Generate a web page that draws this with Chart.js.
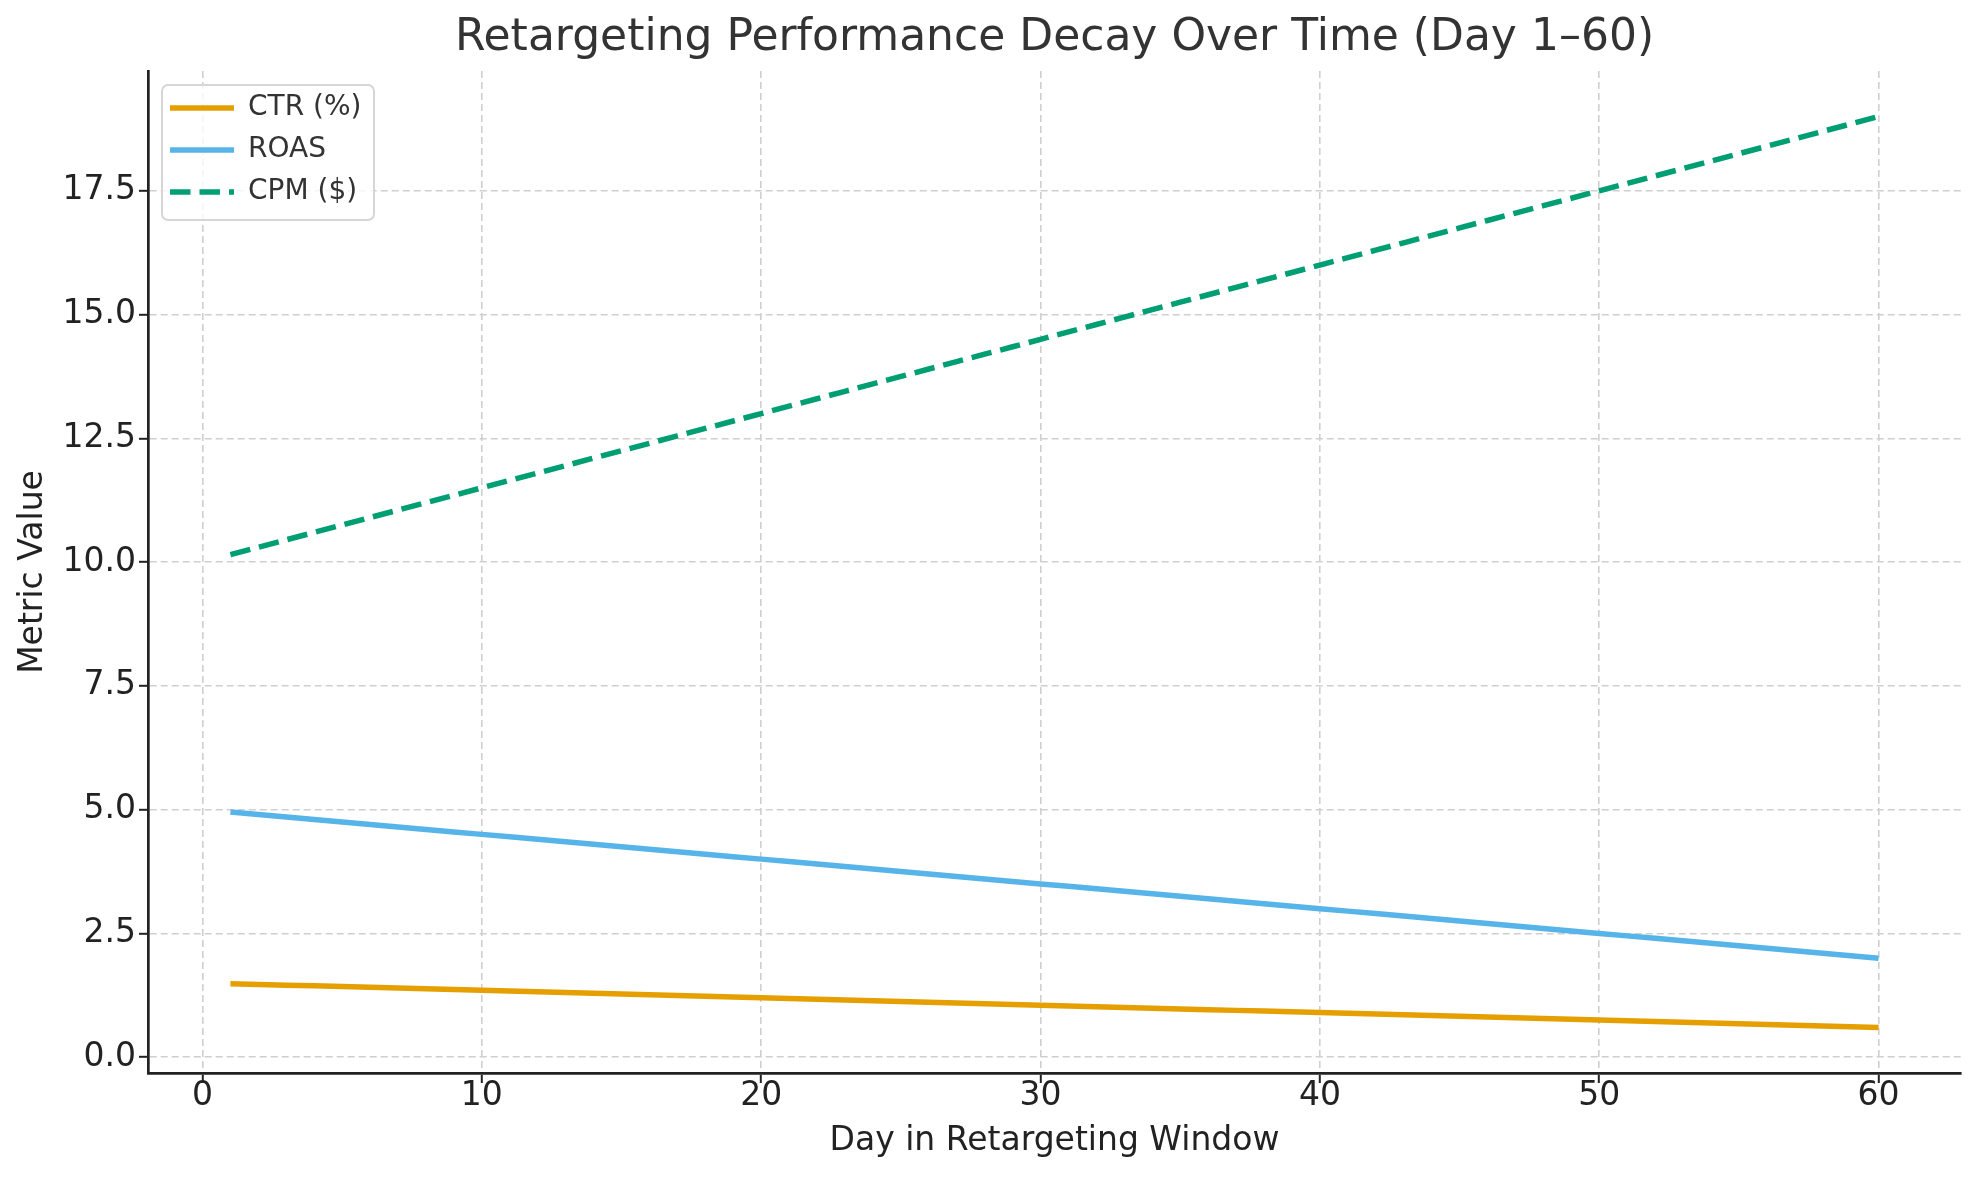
<!DOCTYPE html>
<html>
<head>
<meta charset="utf-8">
<script src="https://cdn.jsdelivr.net/npm/chart.js@4/dist/chart.umd.min.js"></script>
<style>
  html, body { margin: 0; padding: 0; background: #ffffff; }
  #chart { display: block; }
</style>
</head>
<body>
<canvas id="chart" width="1979" height="1180"></canvas>
<script>
// values
const days = [
  1, 2, 3, 4, 5, 6, 7, 8, 9, 10, 11, 12, 13, 14, 15, 16, 17, 18, 19, 20,
  21, 22, 23, 24, 25, 26, 27, 28, 29, 30, 31, 32, 33, 34, 35, 36, 37, 38, 39, 40,
  41, 42, 43, 44, 45, 46, 47, 48, 49, 50, 51, 52, 53, 54, 55, 56, 57, 58, 59, 60,
];
const ctr = [
  1.485, 1.47, 1.455, 1.44, 1.425, 1.41, 1.395, 1.38, 1.365, 1.35,
  1.335, 1.32, 1.305, 1.29, 1.275, 1.26, 1.245, 1.23, 1.215, 1.2,
  1.185, 1.17, 1.155, 1.14, 1.125, 1.11, 1.095, 1.08, 1.065, 1.05,
  1.035, 1.02, 1.005, 0.99, 0.975, 0.96, 0.945, 0.93, 0.915, 0.9,
  0.885, 0.87, 0.855, 0.84, 0.825, 0.81, 0.795, 0.78, 0.765, 0.75,
  0.735, 0.72, 0.705, 0.69, 0.675, 0.66, 0.645, 0.63, 0.615, 0.6,
];
const roas = [
  4.95, 4.9, 4.85, 4.8, 4.75, 4.7, 4.65, 4.6, 4.55, 4.5,
  4.45, 4.4, 4.35, 4.3, 4.25, 4.2, 4.15, 4.1, 4.05, 4.0,
  3.95, 3.9, 3.85, 3.8, 3.75, 3.7, 3.65, 3.6, 3.55, 3.5,
  3.45, 3.4, 3.35, 3.3, 3.25, 3.2, 3.15, 3.1, 3.05, 3.0,
  2.95, 2.9, 2.85, 2.8, 2.75, 2.7, 2.65, 2.6, 2.55, 2.5,
  2.45, 2.4, 2.35, 2.3, 2.25, 2.2, 2.15, 2.1, 2.05, 2.0,
];
const cpm = [
  10.15, 10.3, 10.45, 10.6, 10.75, 10.9, 11.05, 11.2, 11.35, 11.5,
  11.65, 11.8, 11.95, 12.1, 12.25, 12.4, 12.55, 12.7, 12.85, 13.0,
  13.15, 13.3, 13.45, 13.6, 13.75, 13.9, 14.05, 14.2, 14.35, 14.5,
  14.65, 14.8, 14.95, 15.1, 15.25, 15.4, 15.55, 15.7, 15.85, 16.0,
  16.15, 16.3, 16.45, 16.6, 16.75, 16.9, 17.05, 17.2, 17.35, 17.5,
  17.65, 17.8, 17.95, 18.1, 18.25, 18.4, 18.55, 18.7, 18.85, 19.0,
];
const seriesNames = ['CTR (%)', 'ROAS', 'CPM ($)'];

const FONT = 'DejaVu Sans';
const gridColor = '#cfcfcf';
const axisColor = '#222222';

const toPoints = (vals) => days.map((d, i) => ({x: d, y: vals[i]}));

// legend sits inside the plot with a light rounded frame, like matplotlib
const legendFrame = {
  id: 'legendFrame',
  afterLayout(chart) {
    const lg = chart.legend;
    if (!lg) return;
    lg.left = chart.chartArea.left + 8;
    lg.top = chart.chartArea.top + 9;
    if (!lg._framed) {
      const draw = lg.draw;
      lg.draw = function(...args) {
        const ctx = chart.ctx;
        const x = this.left + 6;
        const y = this.top + 5;
        ctx.save();
        ctx.beginPath();
        ctx.roundRect(x, y, 212, 135, 6);
        ctx.fillStyle = 'rgba(255,255,255,0.8)';
        ctx.fill();
        ctx.lineWidth = 2;
        ctx.strokeStyle = '#d6d6d6';
        ctx.stroke();
        ctx.restore();
        draw.apply(this, args);
      };
      lg._framed = true;
    }
  },
};

const gridOpts = (tickLength) => ({
  color: gridColor,
  lineWidth: 1.6,
  tickLength,
  tickColor: axisColor,
  tickWidth: 2,
  tickBorderDash: [],
});

new Chart(document.getElementById('chart'), {
  type: 'line',
  data: {
    datasets: [
      {
        label: seriesNames[0],
        data: toPoints(ctr),
        borderColor: '#E69F00',
        backgroundColor: '#E69F00',
        borderWidth: 5.5,
      },
      {
        label: seriesNames[1],
        data: toPoints(roas),
        borderColor: '#56B4E9',
        backgroundColor: '#56B4E9',
        borderWidth: 5.5,
      },
      {
        label: seriesNames[2],
        data: toPoints(cpm),
        borderColor: '#009E73',
        backgroundColor: '#009E73',
        borderWidth: 5.5,
        borderDash: [20.5, 9],
      },
    ],
  },
  options: {
    responsive: false,
    animation: false,
    devicePixelRatio: 1,
    elements: {
      point: {radius: 0, hoverRadius: 0},
      line: {tension: 0, borderCapStyle: 'butt'},
    },
    layout: {padding: {left: 0, right: 18, top: 0, bottom: 0}},
    scales: {
      x: {
        type: 'linear',
        position: 'bottom',
        min: -1.95,
        max: 62.95,
        afterFit: (scale) => {
          scale.height = 107;
        },
        ticks: {
          stepSize: 10,
          includeBounds: false,
          padding: -3,
          color: axisColor,
          font: {family: FONT, size: 33, lineHeight: 1},
          maxRotation: 0,
        },
        grid: gridOpts(10),
        border: {display: true, color: axisColor, width: 2.7, dash: [7, 4]},
        title: {
          display: true,
          text: 'Day in Retargeting Window',
          color: axisColor,
          font: {family: FONT, size: 33, lineHeight: 1},
          padding: {top: 0, bottom: 22},
        },
      },
      y: {
        type: 'linear',
        min: -0.32,
        max: 19.92,
        afterFit: (scale) => {
          scale.width = 148;
        },
        ticks: {
          stepSize: 2.5,
          includeBounds: false,
          padding: 3,
          color: axisColor,
          font: {family: FONT, size: 33, lineHeight: 1},
          callback: (v) => v.toFixed(1),
        },
        grid: gridOpts(9),
        border: {display: true, color: axisColor, width: 2.7, dash: [7, 4]},
        title: {
          display: true,
          text: 'Metric Value',
          color: axisColor,
          font: {family: FONT, size: 33, lineHeight: 1},
          padding: {top: 17, bottom: 0},
        },
      },
    },
    plugins: {
      title: {
        display: true,
        fullSize: false,
        text: 'Retargeting Performance Decay Over Time (Day 1–60)',
        color: '#333333',
        font: {family: FONT, size: 44, weight: 'normal', lineHeight: 1},
        padding: {top: 17, bottom: 10},
      },
      legend: {
        position: 'chartArea',
        align: 'start',
        labels: {
          usePointStyle: true,
          pointStyle: 'line',
          pointStyleWidth: 64,
          padding: 14,
          color: '#333333',
          font: {family: FONT, size: 28},
          generateLabels: (chart) => Chart.defaults.plugins.legend.labels
              .generateLabels(chart)
              .map((item) => {
                const ds = chart.data.datasets[item.datasetIndex];
                return {
                  ...item,
                  lineDash: ds.borderDash || [],
                  lineWidth: ds.borderWidth,
                  strokeStyle: ds.borderColor,
                };
              }),
        },
      },
      tooltip: {enabled: false},
    },
  },
  plugins: [legendFrame],
});
</script>
</body>
</html>
